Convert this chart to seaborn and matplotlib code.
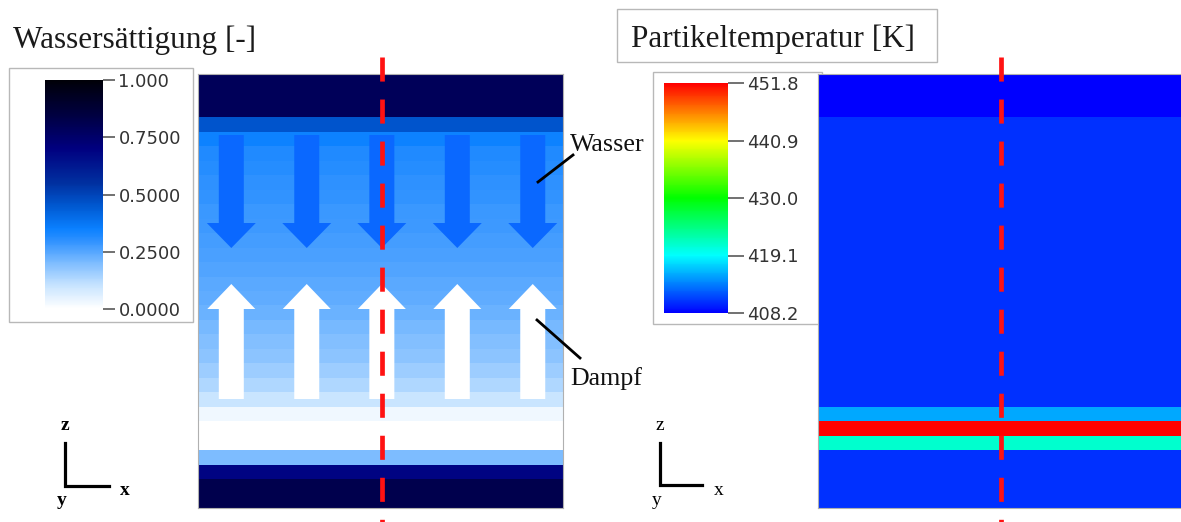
import numpy as np
import pandas as pd
import matplotlib
matplotlib.use("Agg")
import matplotlib.pyplot as plt
import seaborn as sns
from matplotlib.colors import LinearSegmentedColormap
from matplotlib.patches import FancyArrow, Rectangle
from matplotlib.lines import Line2D

# ---------------- data (one value per horizontal cell layer, top -> bottom) ----------------
saturation = [0.79, 0.79, 0.79, 0.46, 0.345, 0.32, 0.31, 0.30, 0.295, 0.285,
              0.28, 0.27, 0.265, 0.255, 0.245, 0.235, 0.225, 0.21, 0.195, 0.18,
              0.16, 0.135, 0.10, 0.03, 0.0, 0.0, 0.2, 0.69, 0.82, 0.82]
temperature = [408.2, 408.2, 408.2, 410.4, 410.4, 410.4, 410.4, 410.4, 410.4, 410.4,
               410.4, 410.4, 410.4, 410.4, 410.4, 410.4, 410.4, 410.4, 410.4, 410.4,
               410.4, 410.4, 410.4, 415.5, 451.8, 421.3, 410.4, 410.4, 410.4, 410.4]
sat_ticks = [0.0, 0.25, 0.5, 0.75, 1.0]
sat_ticklabels = ["0.0000", "0.2500", "0.5000", "0.7500", "1.000"]
temp_ticks = [408.2, 419.1, 430.0, 440.9, 451.8]
temp_ticklabels = ["408.2", "419.1", "430.0", "440.9", "451.8"]
title_left = "Wassersättigung [-]"
title_right = "Partikeltemperatur [K]"
label_water = "Wasser"
label_vapor = "Dampf"

W, H = 1181, 522
fig = plt.figure(figsize=(W / 100, H / 100), dpi=100)
fig.patch.set_facecolor("white")
plt.rcParams["font.family"] = ["DejaVu Sans"]

def fx(x):
    return x / W

def fy(y):
    return 1 - y / H

def axrect(x0, y0, x1, y1):
    return [fx(x0), fy(y1), (x1 - x0) / W, (y1 - y0) / H]

cmap_sat = LinearSegmentedColormap.from_list("sat", [
    (0.00, "#ffffff"), (0.10, "#c8e4ff"), (0.20, "#7dbcff"), (0.30, "#2c90ff"),
    (0.35, "#0a80ff"), (0.45, "#0058d0"), (0.55, "#0030a0"), (0.70, "#000080"),
    (0.85, "#000040"), (1.00, "#000008")])
cmap_temp = LinearSegmentedColormap.from_list("temp", [
    (0.00, "#0000ff"), (0.25, "#00ffff"), (0.50, "#00ff00"), (0.75, "#ffff00"),
    (1.00, "#ff0000")])

df_sat = pd.DataFrame({"S": saturation})
df_temp = pd.DataFrame({"T": temperature})

# boxes behind
def box(x0, y0, x1, y1):
    r = Rectangle((fx(x0), fy(y1)), (x1 - x0) / W, (y1 - y0) / H,
                  transform=fig.transFigure, facecolor="white",
                  edgecolor="#b8b8b8", lw=1.0, zorder=-1)
    fig.add_artist(r)

box(9, 68, 193, 322)
box(653, 72, 822, 324)
box(617, 9, 937, 62)

ax_l = fig.add_axes(axrect(198.5, 74, 563, 508))
cax_l = fig.add_axes(axrect(45, 80, 103, 309))
ax_r = fig.add_axes(axrect(818, 74, 1182.5, 508))
cax_r = fig.add_axes(axrect(664, 83, 728, 313))

sns.heatmap(df_sat, ax=ax_l, cmap=cmap_sat, vmin=0, vmax=1, cbar_ax=cax_l,
            xticklabels=False, yticklabels=False, linewidths=0)
sns.heatmap(df_temp, ax=ax_r, cmap=cmap_temp, vmin=408.2, vmax=451.8, cbar_ax=cax_r,
            xticklabels=False, yticklabels=False, linewidths=0)

for ax in (ax_l, ax_r):
    ax.set_xlabel("")
    ax.set_ylabel("")
    for s in ax.spines.values():
        s.set_visible(True)
        s.set_color("#b0b0b0")
        s.set_linewidth(0.8)

for ax, ticks, labels, tl in ((ax_l, sat_ticks, sat_ticklabels, 8.6),
                              (ax_r, temp_ticks, temp_ticklabels, 11.5)):
    cb = ax.collections[0].colorbar
    cb.outline.set_visible(False)
    cb.set_ticks(ticks)
    cb.set_ticklabels(labels)
    cb.ax.tick_params(length=tl, width=1.3, color="#666666", labelsize=13,
                      labelcolor="#333333", pad=2.5)

# arrows in the saturation field (rows: 14.47 px each)
rows = len(saturation)
px_row = 434 / rows
arrow_x = [0.090, 0.297, 0.503, 0.710, 0.917]
for cx in arrow_x:
    ax_l.add_patch(FancyArrow(cx, (135 - 74) / px_row, 0, (248 - 135) / px_row,
                              width=25 / 364.5, head_width=49 / 364.5,
                              head_length=25 / px_row, length_includes_head=True,
                              color="#0a68ff", lw=0, zorder=3))
    ax_l.add_patch(FancyArrow(cx, (399 - 74) / px_row, 0, -(399 - 284) / px_row,
                              width=25 / 364.5, head_width=48 / 364.5,
                              head_length=25 / px_row, length_includes_head=True,
                              color="white", lw=0, zorder=3))

# red dashed section lines
for ax, xc in ((ax_l, 0.503), (ax_r, 0.502)):
    ax.plot([xc, xc], [(57 - 74) / px_row, (523 - 74) / px_row], color="#ff1212",
            lw=3.4, dashes=(5.1, 3.8), solid_capstyle="butt", dash_capstyle="butt",
            clip_on=False, zorder=5)

# titles
serif = ["Liberation Serif", "DejaVu Serif"]
fig.text(fx(13), fy(48), title_left, family=serif, fontsize=22.5, color="#1a1a1a",
         va="baseline", ha="left")
fig.text(fx(631), fy(47), title_right, family=serif, fontsize=22.5, color="#1a1a1a",
         va="baseline", ha="left")

# annotations
fig.text(fx(570), fy(151), label_water, family=serif, fontsize=18.7, color="#111111",
         va="baseline", ha="left")
fig.text(fx(570), fy(385), label_vapor, family=serif, fontsize=18.7, color="#111111",
         va="baseline", ha="left")
fig.add_artist(Line2D([fx(538), fx(573)], [fy(182), fy(155)], color="black", lw=2.0))
fig.add_artist(Line2D([fx(537), fx(580)], [fy(320), fy(358)], color="black", lw=2.0))

# orientation triads
for (x0, xr, yb, zx, xx, yx, wt) in ((65, 109, 486, 61, 120, 57, "bold"),
                                      (660, 702, 485, 655, 714, 652, "normal")):
    fig.add_artist(Line2D([fx(x0), fx(x0), fx(xr)], [fy(443), fy(yb), fy(yb)],
                          color="black", lw=2.3, solid_joinstyle="miter"))
    fig.text(fx(zx), fy(430), "z", family=serif, fontsize=14, weight=wt, va="baseline")
    fig.text(fx(xx), fy(495), "x", family=serif, fontsize=14, weight=wt, va="baseline")
    fig.text(fx(yx), fy(505), "y", family=serif, fontsize=14, weight=wt, va="baseline")

fig.savefig("out.png", dpi=100, facecolor="white")
